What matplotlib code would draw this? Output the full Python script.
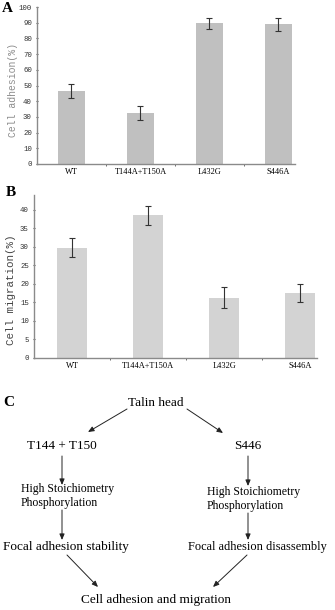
import matplotlib
matplotlib.use("Agg")
import matplotlib.pyplot as plt

# data
groups = ["WT", "T144A+T150A", "L432G", "S446A"]
adhesion = [46.5, 32.5, 89.5, 89.0]
adhesion_err = [4.5, 4.5, 3.5, 4.0]
migration = [29.8, 38.5, 16.3, 17.6]
migration_err = [2.6, 2.5, 2.8, 2.4]

W, H = 335, 610
serif = "Liberation Serif"
mono = "Liberation Mono"

fig = plt.figure(figsize=(W / 100, H / 100), dpi=100)


def px_axes(left, top, right, bottom):
    return fig.add_axes([left / W, 1 - bottom / H, (right - left) / W, (bottom - top) / H])


def bar_panel(ax, vals, errs, color, ylim, yticks, ylabel, ylab_color, ylab_size, xmax):
    x = range(len(groups))
    ax.bar(x, vals, width=0.39, color=color, zorder=2)
    ax.errorbar(x, vals, yerr=errs, fmt="none", ecolor="#333333", elinewidth=0.8,
                capsize=2.2, capthick=0.8, zorder=3)
    ax.set_xlim(-0.5, xmax)
    ax.set_ylim(*ylim)
    ax.set_yticks(yticks)
    ax.set_yticklabels([str(t) for t in yticks], fontfamily=mono, fontsize=5.3, color="#333333")
    ax.set_xticks(list(x))
    ax.set_xticklabels(groups, fontfamily=serif, fontsize=6)
    ax.set_xticks([0.5, 1.5, 2.5], minor=True)
    ax.tick_params(axis="x", which="major", length=0, pad=3)
    ax.tick_params(axis="x", which="minor", length=1.5, color="#555555", direction="out")
    ax.tick_params(axis="y", length=1.5, color="#555555", direction="inout", pad=3)
    for s in ["top", "right"]:
        ax.spines[s].set_visible(False)
    for s in ["left", "bottom"]:
        ax.spines[s].set_color("#8a8a8a")
        ax.spines[s].set_linewidth(1.0)
    ax.set_ylabel(ylabel, fontfamily=mono, fontsize=ylab_size, color=ylab_color)


# panel A
axA = px_axes(37, 7, 295, 164)
bar_panel(axA, adhesion, adhesion_err, "#c0c0c0", (0, 100), list(range(0, 101, 10)),
          "Cell adhesion(%)", "#8c8c8c", 7, 3.24)
axA.yaxis.set_label_coords(-0.075, 0.47)

# panel B
axB = px_axes(34, 195, 317, 358)
bar_panel(axB, migration, migration_err, "#d3d3d3", (0, 44), list(range(0, 41, 5)),
          "Cell migration(%)", "#444444", 7.8, 3.22)
axB.yaxis.set_label_coords(-0.062, 0.42)

fig.text(2 / W, 1 - 8 / H, "A", fontfamily=serif, fontweight="bold", fontsize=11, va="center")
fig.text(6 / W, 1 - 192 / H, "B", fontfamily=serif, fontweight="bold", fontsize=11, va="center")
fig.text(3 / W, 1 - 402 / H, "C", fontfamily=serif, fontweight="bold", fontsize=11, va="center")

# panel C: flow diagram in pixel coordinates
axC = fig.add_axes([0, 0, 1, 1])
axC.set_xlim(0, W)
axC.set_ylim(H, 0)
axC.axis("off")
axC.patch.set_alpha(0)

big = 9.5
small = 8.5
axC.text(156, 403, "Talin head", fontfamily=serif, fontsize=big, ha="center", va="center")
axC.text(62, 446, "T144 + T150", fontfamily=serif, fontsize=big, ha="center", va="center")
axC.text(248, 446, "S446", fontfamily=serif, fontsize=big, ha="center", va="center")
axC.text(21, 489, "High Stoichiometry", fontfamily=serif, fontsize=small, ha="left", va="center")
axC.text(21, 503, "Phosphorylation", fontfamily=serif, fontsize=small, ha="left", va="center")
axC.text(207, 492, "High Stoichiometry", fontfamily=serif, fontsize=small, ha="left", va="center")
axC.text(207, 506, "Phosphorylation", fontfamily=serif, fontsize=small, ha="left", va="center")
axC.text(3, 547, "Focal adhesion stability", fontfamily=serif, fontsize=big, ha="left", va="center")
axC.text(188, 547, "Focal adhesion disassembly", fontfamily=serif, fontsize=8.9, ha="left", va="center")
axC.text(156, 600, "Cell adhesion and migration", fontfamily=serif, fontsize=big, ha="center", va="center")

arrows = [
    ((127, 409), (88, 432)),
    ((187, 409), (223, 433)),
    ((62, 456), (62, 485)),
    ((248, 456), (248, 486)),
    ((62, 510), (62, 540)),
    ((248, 513), (248, 540)),
    ((67, 555), (98, 587)),
    ((247, 555), (213, 587)),
]
for start, end in arrows:
    axC.annotate("", xy=end, xytext=start,
                 arrowprops=dict(arrowstyle="-|>,head_length=0.35,head_width=0.15",
                                 color="#222222", lw=0.7, shrinkA=0, shrinkB=0))

fig.savefig("out.png", dpi=100)
